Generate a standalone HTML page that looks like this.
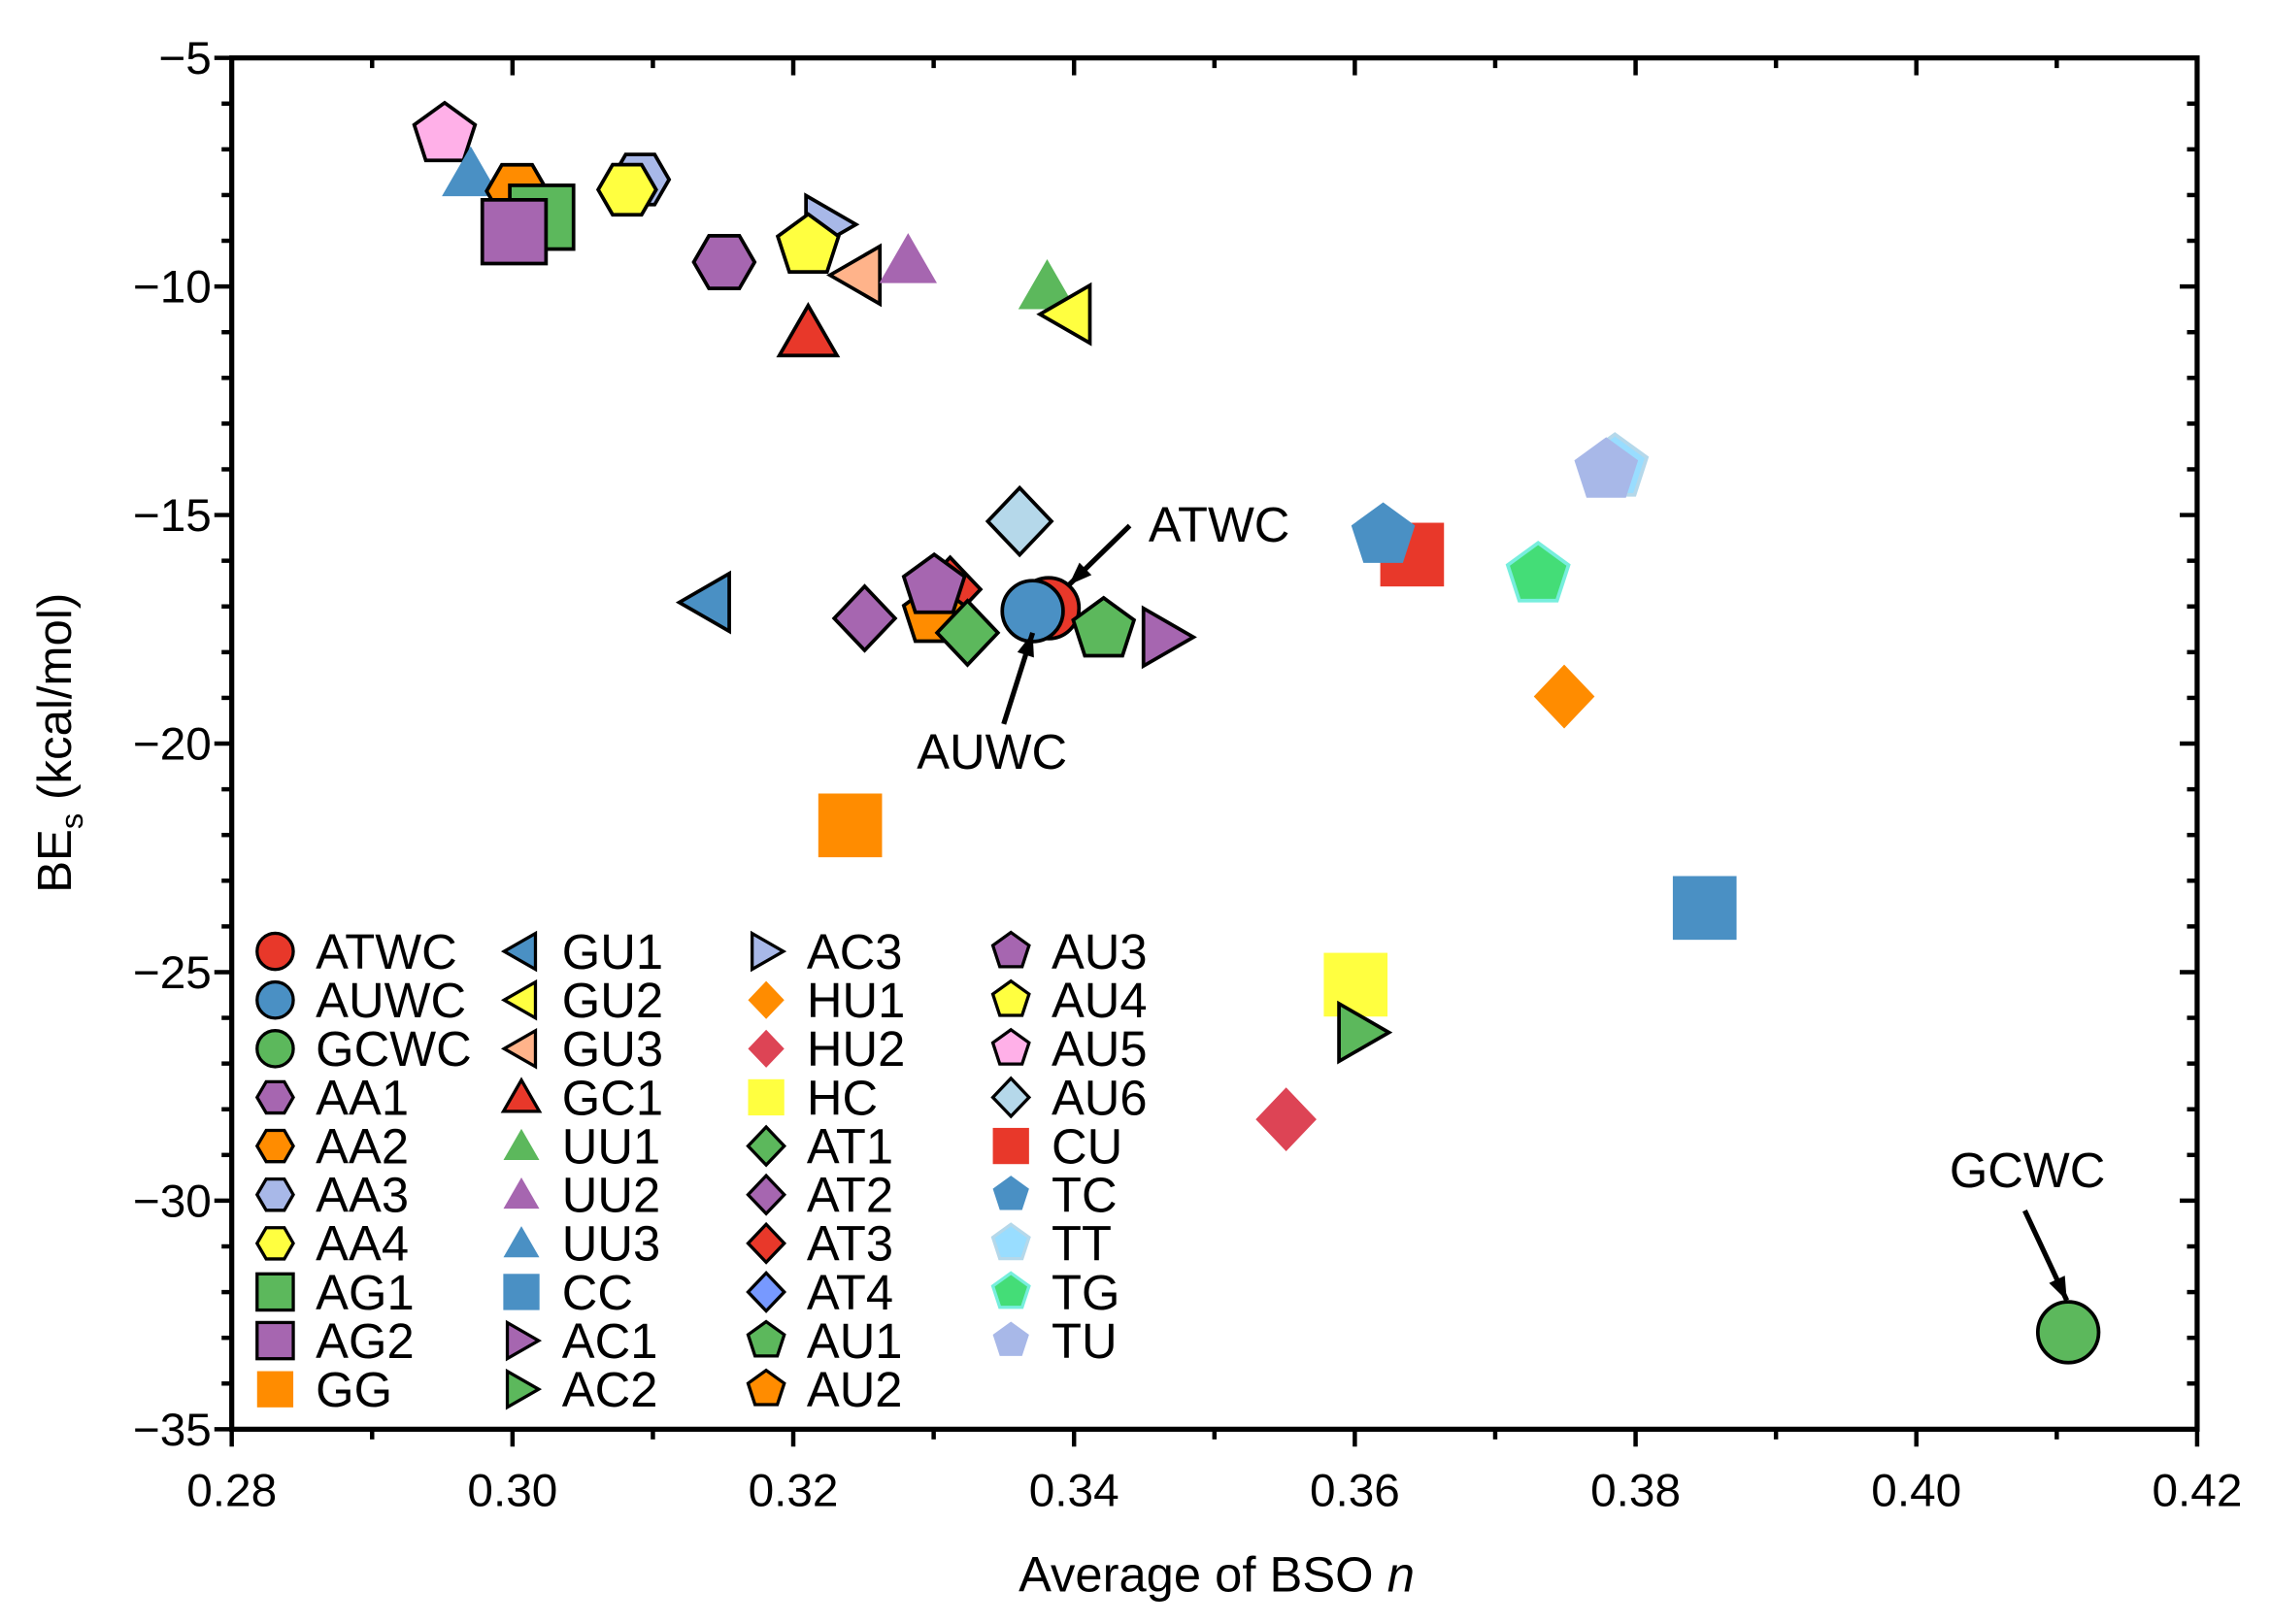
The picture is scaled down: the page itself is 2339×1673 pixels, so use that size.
<!DOCTYPE html>
<html><head><meta charset="utf-8"><style>
html,body{margin:0;padding:0;background:#fff;}
svg{display:block;}
text{font-family:"Liberation Sans",Arial,sans-serif;fill:#000;}
</style></head><body>
<svg id="s" width="2339" height="1673" viewBox="0 0 1568 1121.5" preserveAspectRatio="none" xmlns="http://www.w3.org/2000/svg">
<rect width="1568" height="1121.5" fill="#fff"/>
<g id="ax"></g>
<g id="pts"></g>
<g id="leg"></g>
</svg>
<script>
const NS="http://www.w3.org/2000/svg";
function el(p,t,a,txt){const e=document.createElementNS(NS,t);for(const k in a)e.setAttribute(k,a[k]);if(txt!==undefined)e.textContent=txt;p.appendChild(e);return e;}
const ax=document.getElementById('ax'),pts=document.getElementById('pts'),leg=document.getElementById('leg');
const L=160,R=1517,T=40,B=987;
for(let i=0;i<=14;i++){const x=L+i*(R-L)/14;const maj=i%2==0;const len=maj?12:7;
 el(ax,'line',{x1:x,y1:B,x2:x,y2:B+len,stroke:'#000','stroke-width':3});
 el(ax,'line',{x1:x,y1:T,x2:x,y2:T+len,stroke:'#000','stroke-width':3});
 if(maj)el(ax,'text',{x:x,y:B+53,'font-size':32,'text-anchor':'middle'},(0.28+i*0.01).toFixed(2));}
for(let i=0;i<=30;i++){const y=T+i*(B-T)/30;const maj=i%5==0;const len=maj?12:7;
 el(ax,'line',{x1:L-len,y1:y,x2:L,y2:y,stroke:'#000','stroke-width':3});
 el(ax,'line',{x1:R-len,y1:y,x2:R,y2:y,stroke:'#000','stroke-width':3});
 if(maj)el(ax,'text',{x:L-14,y:y+11,'font-size':32,'text-anchor':'end'},'\u2212'+(5+i));}
el(ax,'rect',{x:L,y:T,width:R-L,height:B-T,fill:'none',stroke:'#000','stroke-width':3.5});
const xl=el(ax,'text',{x:840,y:1099,'font-size':34,'text-anchor':'middle'});
xl.innerHTML='Average of BSO <tspan font-style="italic">n</tspan>';
const yl=el(ax,'text',{x:0,y:0,'font-size':33,'text-anchor':'middle',transform:'translate(49,513) rotate(-90)'});
yl.innerHTML='BE<tspan font-size="22" dy="8">s</tspan><tspan dy="-8"> (kcal/mol)</tspan>';
function poly(n,r,rot){let a=[];for(let i=0;i<n;i++){const t=rot+i*2*Math.PI/n;a.push([r*Math.cos(t),r*Math.sin(t)]);}return a;}
function shape(g,type,cx,cy,s,fill,stroke,sw){
 let a={fill:fill};if(stroke){a.stroke=stroke;a['stroke-width']=sw||2.5;a['stroke-linejoin']='miter';}
 if(type=='o'){a.cx=cx;a.cy=cy;a.r=s;el(g,'circle',a);return;}
 if(type=='s'){a.x=cx-s;a.y=cy-s;a.width=2*s;a.height=2*s;el(g,'rect',a);return;}
 let p;
 if(type=='h')p=poly(6,s,0);
 else if(type=='p')p=poly(5,s*1.05,-Math.PI/2);
 else if(type=='^')p=poly(3,s*1.15,-Math.PI/2).map(q=>[q[0],q[1]+s*0.2]);
 else if(type=='<')p=poly(3,s*1.15,Math.PI).map(q=>[q[0]+s*0.2,q[1]]);
 else if(type=='>')p=poly(3,s*1.15,0).map(q=>[q[0]-s*0.2,q[1]]);
 else if(type=='d')p=[[0,-s*1.05],[s*1.0,0],[0,s*1.05],[-s*1.0,0]];
 a.points=p.map(q=>(cx+q[0]).toFixed(1)+','+(cy+q[1]).toFixed(1)).join(' ');el(g,'polygon',a);}
const K='#000';
const S={
ATWC:['o','#e8382a',K],AUWC:['o','#4a90c4',K],GCWC:['o','#5cb85c',K],
AA1:['h','#a666b0',K],AA2:['h','#ff8c00',K],AA3:['h','#a8b8e8',K],AA4:['h','#ffff40',K],
AG1:['s','#5cb85c',K],AG2:['s','#a666b0',K],GG:['s','#ff8c00',null],
GU1:['<','#4a90c4',K],GU2:['<','#ffff40',K],GU3:['<','#ffb38a',K],GC1:['^','#e8382a',K],
UU1:['^','#5cb85c',null],UU2:['^','#a666b0',null],UU3:['^','#4a90c4',null],CC:['s','#4a90c4',null],
AC1:['>','#a666b0',K],AC2:['>','#5cb85c',K],AC3:['>','#a8b8e8',K],
HU1:['d','#ff8c00',null],HU2:['d','#dd4455',null],HC:['s','#ffff40',null],
AT1:['d','#5cb85c',K],AT2:['d','#a666b0',K],AT3:['d','#e8382a',K],AT4:['d','#7799ff',K],
AU1:['p','#5cb85c',K],AU2:['p','#ff8c00',K],AU3:['p','#a666b0',K],AU4:['p','#ffff40',K],
AU5:['p','#ffb0e8',K],AU6:['d','#b5d8ea',K],CU:['s','#e8382a',null],TC:['p','#4a90c4',null],
TT:['p','#99ddff','#b5d8ea'],TG:['p','#44dd77','#77eedd'],TU:['p','#a8b8e8',null]};
const data=[
['TT',1115,323,22],['TU',1109,325,22],['AU5',307,93,21],['UU3',325,120,20],['AA2',357,132,21],['AG1',374,150,22],['AG2',355,160,22],
['AA3',442,124,20],['AA4',433,131,20],['AA1',500,181,21],['AC3',572,155,20],['AU4',558,170,21],
['GU3',592,190,20],['UU2',627,180,20],['GC1',558,230,20],['UU1',723,198,20],['GU2',737,217,20],
['AU6',704,360,22],['GU1',488,416,20],['AT2',597,427,21],['AT3',656,407,21],['AU2',645,425,21],['AT1',668,437,21],['AU3',645,405,21],
['ATWC',724,420,21],['AUWC',713,422,21],['AU1',762,435,21],['AC1',805,440,20],
['CU',975,383,22],['TC',955,370,22],['TG',1062,397,21],['HU1',1080,481,21],['CC',1177,627,22],
['HC',936,680,22],['AC2',940,713,20],['HU2',888,773,21],['GG',587,570,22],['GCWC',1428,920,21]];
for(const d of data){const s=S[d[0]];shape(pts,s[0],d[1],d[2],d[3],s[1],s[2],2.5);}
function arrow(x1,y1,x2,y2){el(pts,'line',{x1:x1,y1:y1,x2:x2,y2:y2,stroke:'#000','stroke-width':3.5});
 const a=Math.atan2(y2-y1,x2-x1),h=16,w=6;const bx=x2-h*Math.cos(a),by=y2-h*Math.sin(a);
 el(pts,'polygon',{points:`${x2},${y2} ${bx+w*Math.sin(a)},${by-w*Math.cos(a)} ${bx-w*Math.sin(a)},${by+w*Math.cos(a)}`,fill:'#000'});}
arrow(780,363,738,404);arrow(693,500,713,437);arrow(1398,836,1427,898);
el(pts,'text',{x:793,y:374,'font-size':34},'ATWC');
el(pts,'text',{x:633,y:531,'font-size':34},'AUWC');
el(pts,'text',{x:1346,y:820,'font-size':34},'GCWC');
const cols=[['ATWC','AUWC','GCWC','AA1','AA2','AA3','AA4','AG1','AG2','GG'],
['GU1','GU2','GU3','GC1','UU1','UU2','UU3','CC','AC1','AC2'],
['AC3','HU1','HU2','HC','AT1','AT2','AT3','AT4','AU1','AU2'],
['AU3','AU4','AU5','AU6','CU','TC','TT','TG','TU']];
const cx=[190,360,529,698];
cols.forEach((c,i)=>c.forEach((n,j)=>{const y=657+j*33.6;const s=S[n];
 shape(leg,s[0],cx[i],y,12.5,s[1],s[2],2.2);
 el(leg,'text',{x:cx[i]+28,y:y+12,'font-size':34},n);}));
</script>
</body></html>
